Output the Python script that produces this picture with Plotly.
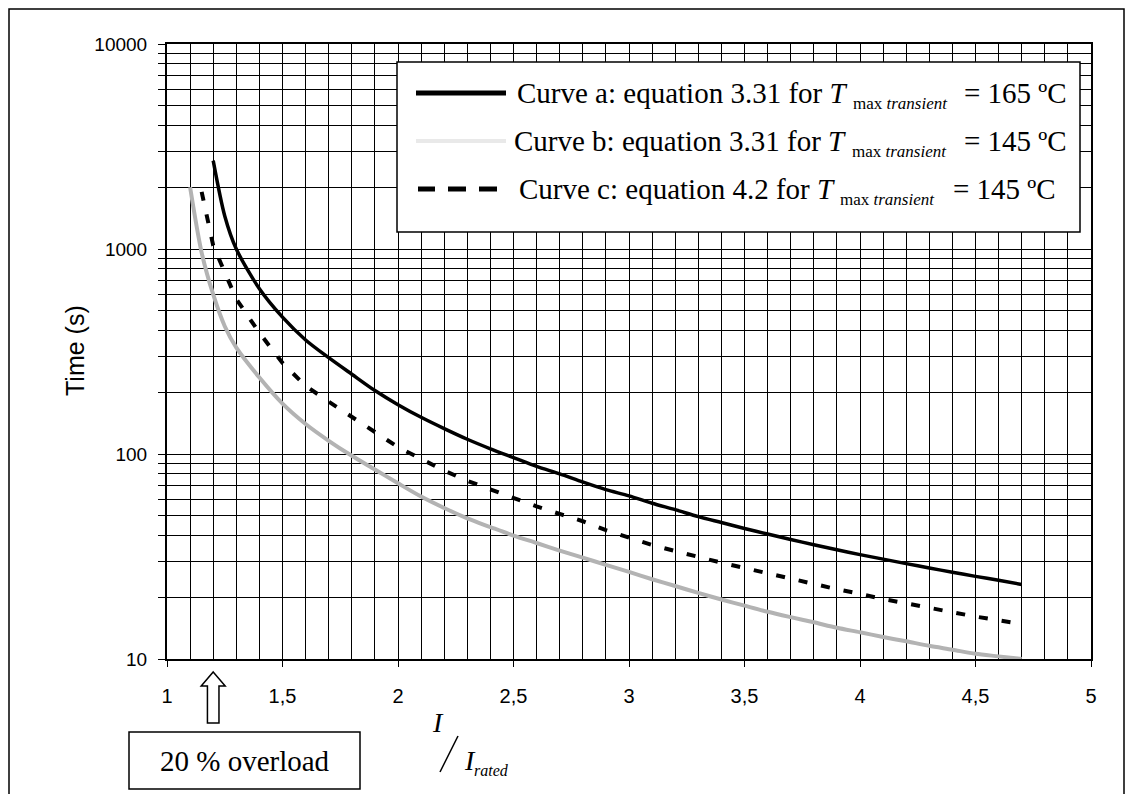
import plotly.graph_objects as go

# ---------------- data ----------------
x_a = [1.2, 1.25, 1.3, 1.4, 1.5, 1.6, 1.7, 1.8, 1.9, 2.0, 2.1, 2.2, 2.3, 2.4, 2.5, 2.6, 2.7, 2.8, 2.9,
       3.0, 3.1, 3.2, 3.3, 3.4, 3.5, 3.6, 3.7, 3.8, 3.9, 4.0, 4.1, 4.2, 4.3, 4.4, 4.5, 4.6, 4.7]
t_a = [2700, 1450, 1000, 640, 465, 360, 295, 245, 204, 174, 151, 133, 118, 106, 96, 87, 80, 73, 67,
       62.5, 57.5, 53.5, 49.5, 46.3, 43.3, 40.7, 38.3, 36.1, 34.1, 32.3, 30.7, 29.2, 27.8, 26.5, 25.3, 24.2, 23.1]

x_b = [1.1, 1.15, 1.2, 1.25, 1.3, 1.4, 1.5, 1.6, 1.7, 1.8, 1.9, 2.0, 2.1, 2.2, 2.3, 2.4, 2.5, 2.6, 2.7, 2.8, 2.9,
       3.0, 3.1, 3.2, 3.3, 3.4, 3.5, 3.6, 3.7, 3.8, 3.9, 4.0, 4.1, 4.2, 4.3, 4.4, 4.5, 4.6, 4.7]
t_b = [2000, 960, 600, 420, 330, 236, 176, 140, 116, 98, 84, 72, 62, 54.5, 48.5, 44, 40, 36.8, 33.8, 31.2, 28.8,
       26.6, 24.5, 22.7, 21.0, 19.5, 18.2, 17.0, 16.0, 15.1, 14.2, 13.5, 12.8, 12.2, 11.6, 11.1, 10.6, 10.3, 10.0]

x_c = [1.15, 1.2, 1.3, 1.4, 1.5, 1.6, 1.7, 1.8, 1.9, 2.0, 2.1, 2.2, 2.3, 2.4, 2.5, 2.6, 2.7, 2.8, 2.9,
       3.0, 3.1, 3.2, 3.3, 3.4, 3.5, 3.6, 3.7, 3.8, 3.9, 4.0, 4.1, 4.2, 4.3, 4.4, 4.5, 4.6, 4.7]
t_c = [1900, 1040, 570, 390, 278, 215, 180, 151, 128, 108, 95, 83, 74, 67, 61, 55.5, 51, 47, 42.5,
       39, 36, 33.6, 31.4, 29.5, 27.8, 26.2, 24.6, 23.1, 21.9, 20.8, 19.6, 18.7, 17.7, 16.9, 16.1, 15.4, 14.8]

x_tickvals = [1, 1.5, 2, 2.5, 3, 3.5, 4, 4.5, 5]
x_ticktext = ["1", "1,5", "2", "2,5", "3", "3,5", "4", "4,5", "5"]
y_tickvals = [10, 100, 1000, 10000]
y_ticktext = ["10", "100", "1000", "10000"]
y_minor = [m * d for d in (10, 100, 1000) for m in range(2, 10)]

legend_labels = ["Curve a: equation 3.31 for ", "Curve b: equation 3.31 for ", "Curve c: equation 4.2 for "]
legend_values = ["= 165 ºC", "= 145 ºC", "= 145 ºC"]
overload_x = 1.2

# ---------------- geometry helpers (pixel -> paper) ----------------
W, H = 1133, 794
L, R, T, B = 167, 1091, 44, 659


def px(x):
    return (x - L) / (R - L)


def py(y):
    return (B - y) / (B - T)


SERIF = "Liberation Serif, Times New Roman, serif"
SANS = "Liberation Sans, Arial, sans-serif"

fig = go.Figure()
fig.add_trace(go.Scatter(x=x_b, y=t_b, mode="lines", line=dict(color="#b3b3b3", width=4, shape="spline", smoothing=0.8),
                         showlegend=False, hoverinfo="skip"))
fig.add_trace(go.Scatter(x=x_c, y=t_c, mode="lines", line=dict(color="black", width=4, dash="9px,14px"),
                         showlegend=False, hoverinfo="skip"))
fig.add_trace(go.Scatter(x=x_a, y=t_a, mode="lines", line=dict(color="black", width=3.5, shape="spline", smoothing=0.8),
                         showlegend=False, hoverinfo="skip"))

fig.update_layout(
    width=W, height=H,
    margin=dict(l=L, r=W - R, t=T, b=H - B),
    paper_bgcolor="white", plot_bgcolor="white",
    showlegend=False,
    xaxis=dict(range=[1, 5], tickvals=x_tickvals, ticktext=x_ticktext,
               ticks="outside", ticklen=6, tickcolor="black", tickwidth=1,
               showgrid=True, gridcolor="black", gridwidth=1,
               minor=dict(dtick=0.1, tick0=1, showgrid=True, gridcolor="black", gridwidth=1, ticks=""),
               showline=True, linecolor="black", linewidth=2, mirror=True, zeroline=False,
               tickfont=dict(family=SANS, size=20, color="black"), ticklabelstandoff=12),
    yaxis=dict(type="log", range=[1, 4], tickvals=y_tickvals, ticktext=y_ticktext,
               ticks="outside", ticklen=7, tickcolor="black", tickwidth=1,
               showgrid=True, gridcolor="black", gridwidth=1,
               minor=dict(tickvals=y_minor, showgrid=True, gridcolor="black", gridwidth=1,
                          ticks="outside", ticklen=7, tickcolor="black"),
               showline=True, linecolor="black", linewidth=2, mirror=True, zeroline=False,
               tickfont=dict(family=SANS, size=19, color="black"), ticklabelstandoff=7),
)

shapes = []
annotations = []

# outer frame
shapes.append(dict(type="rect", xref="paper", yref="paper", x0=px(9), x1=px(1124), y0=py(805), y1=py(9),
                   line=dict(color="black", width=1.5), fillcolor="rgba(0,0,0,0)", layer="below"))

# legend box
shapes.append(dict(type="rect", xref="paper", yref="paper", x0=px(397), x1=px(1080), y0=py(232), y1=py(62),
                   line=dict(color="black", width=1.5), fillcolor="white", layer="above"))
leg_y = [93, 141, 189]
# legend samples
shapes.append(dict(type="line", xref="paper", yref="paper", x0=px(416), x1=px(506), y0=py(leg_y[0]), y1=py(leg_y[0]),
                   line=dict(color="black", width=5)))
shapes.append(dict(type="line", xref="paper", yref="paper", x0=px(416), x1=px(506), y0=py(leg_y[1]), y1=py(leg_y[1]),
                   line=dict(color="#e9e9e9", width=4)))
for d0, d1 in [(418, 435), (448, 466), (479, 497)]:
    shapes.append(dict(type="line", xref="paper", yref="paper", x0=px(d0), x1=px(d1), y0=py(leg_y[2]), y1=py(leg_y[2]),
                       line=dict(color="black", width=5)))

text_x = [515, 512, 517]
sub_x = [851, 850, 838]
val_x = [962, 962, 951]
for i in range(3):
    annotations.append(dict(xref="paper", yref="paper", x=px(text_x[i]), y=py(leg_y[i]), xanchor="left", yanchor="middle",
                            text=legend_labels[i] + "<i>T</i>", showarrow=False,
                            font=dict(family=SERIF, size=29, color="black")))
    annotations.append(dict(xref="paper", yref="paper", x=px(sub_x[i]), y=py(leg_y[i] + 10), xanchor="left", yanchor="middle",
                            text="max <i>transient</i>", showarrow=False,
                            font=dict(family=SERIF, size=17, color="black")))
    annotations.append(dict(xref="paper", yref="paper", x=px(val_x[i]), y=py(leg_y[i]), xanchor="left", yanchor="middle",
                            text=legend_values[i], showarrow=False,
                            font=dict(family=SERIF, size=29, color="black")))

# y-axis title
annotations.append(dict(xref="paper", yref="paper", x=px(75), y=py(351), xanchor="center", yanchor="middle",
                        text="Time (s)", textangle=-90, showarrow=False,
                        font=dict(family=SANS, size=25, color="black")))

# x-axis title I / I_rated
annotations.append(dict(xref="paper", yref="paper", x=px(438), y=py(722), xanchor="center", yanchor="middle",
                        text="<i>I</i>", showarrow=False, font=dict(family=SERIF, size=28, color="black")))
shapes.append(dict(type="line", xref="paper", yref="paper", x0=px(440), x1=px(458), y0=py(772), y1=py(736),
                   line=dict(color="black", width=1.5)))
annotations.append(dict(xref="paper", yref="paper", x=px(462), y=py(760), xanchor="left", yanchor="middle",
                        text="<i>I</i>", showarrow=False, font=dict(family=SERIF, size=28, color="black")))
annotations.append(dict(xref="paper", yref="paper", x=px(472), y=py(770), xanchor="left", yanchor="middle",
                        text="<i>rated</i>", showarrow=False, font=dict(family=SERIF, size=16, color="black")))

# overload arrow (hollow), at x = 1.2
ya, yh, yb = py(672), py(686), py(723)
hw, sw = 0.052, 0.025
path = (f"M {overload_x},{ya} L {overload_x + hw},{yh} L {overload_x + sw},{yh} L {overload_x + sw},{yb} "
        f"L {overload_x - sw},{yb} L {overload_x - sw},{yh} L {overload_x - hw},{yh} Z")
shapes.append(dict(type="path", xref="x", yref="paper", path=path, line=dict(color="black", width=1.5), fillcolor="white"))

# overload box
shapes.append(dict(type="rect", xref="paper", yref="paper", x0=px(129), x1=px(360), y0=py(789), y1=py(732),
                   line=dict(color="black", width=1.5), fillcolor="white"))
annotations.append(dict(xref="paper", yref="paper", x=px(244.5), y=py(760.5), xanchor="center", yanchor="middle",
                        text="20 % overload", showarrow=False, font=dict(family=SERIF, size=29, color="black")))

fig.update_layout(shapes=shapes, annotations=annotations)
fig.write_html("out.html")
